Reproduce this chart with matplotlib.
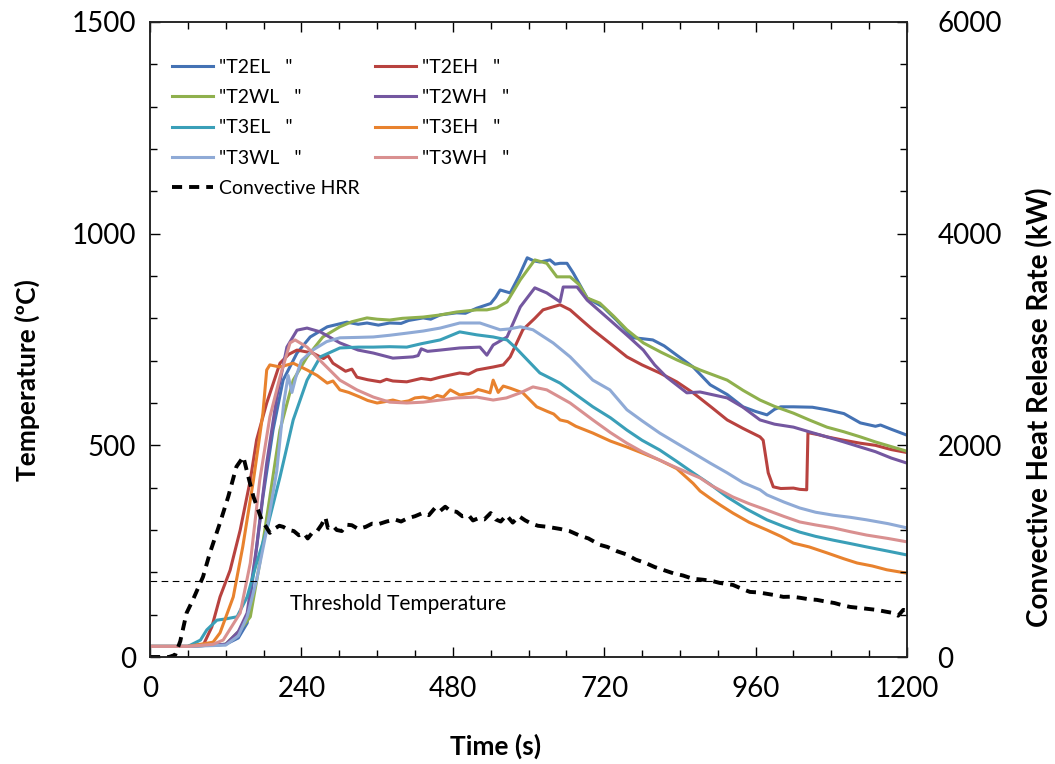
import numpy as np
import matplotlib
matplotlib.use("Agg")
import matplotlib.pyplot as plt
from matplotlib.ticker import MultipleLocator

plt.rcParams['font.family'] = ['Lato', 'DejaVu Sans']

# (time s, temperature C)
T2EL = [(0, 25), (60, 25), (120, 30), (140, 45), (154, 80), (166, 222), (179, 378), (195, 536),
        (211, 654), (233, 718), (254, 756), (281, 780), (312, 791), (330, 786), (344, 789),
        (362, 784), (380, 789), (398, 788), (410, 795), (433, 801), (445, 798), (460, 808),
        (486, 813), (500, 812), (518, 824), (540, 835), (548, 850), (555, 867), (571, 860),
        (585, 900), (598, 943), (608, 936), (618, 933), (634, 938), (642, 928), (650, 930),
        (661, 930), (671, 907), (693, 848), (718, 827), (740, 795), (766, 754), (780, 752),
        (797, 749), (815, 735), (835, 713), (861, 685), (888, 643), (915, 620), (940, 591),
        (960, 580), (978, 572), (990, 585), (1000, 591), (1020, 591), (1050, 590), (1073, 584),
        (1100, 575), (1126, 553), (1150, 545), (1158, 548), (1175, 538), (1200, 524)]

T2EH = [(0, 25), (60, 25), (85, 30), (98, 71), (111, 142), (127, 205), (143, 300), (159, 418),
        (169, 513), (185, 600), (206, 694), (220, 715), (233, 725), (258, 718), (275, 705),
        (282, 712), (290, 694), (310, 675), (320, 680), (328, 661), (345, 655), (365, 650),
        (375, 656), (385, 652), (407, 650), (430, 658), (445, 655), (460, 661), (491, 671),
        (505, 668), (518, 678), (544, 685), (560, 690), (571, 709), (591, 773), (610, 800),
        (623, 820), (650, 832), (666, 820), (685, 795), (702, 773), (730, 740), (756, 709),
        (780, 690), (808, 671), (835, 650), (861, 624), (890, 590), (915, 560), (940, 540),
        (967, 520), (972, 512), (980, 435), (988, 402), (1000, 398), (1020, 399), (1030, 396),
        (1041, 395), (1043, 530), (1060, 525), (1073, 520), (1100, 512), (1126, 505),
        (1150, 500), (1175, 490), (1200, 483)]

T2WL = [(0, 25), (60, 25), (120, 30), (143, 64), (159, 95), (174, 222), (190, 378), (206, 536),
        (227, 654), (249, 709), (274, 756), (301, 780), (320, 792), (344, 801), (360, 798),
        (380, 796), (400, 800), (433, 803), (460, 808), (486, 815), (518, 820), (534, 820),
        (550, 825), (566, 839), (587, 891), (610, 938), (629, 930), (645, 898), (666, 898),
        (680, 880), (693, 848), (713, 836), (735, 805), (756, 773), (782, 742), (810, 720),
        (835, 702), (872, 678), (915, 654), (940, 630), (967, 607), (990, 592), (1020, 576),
        (1045, 560), (1073, 543), (1100, 532), (1126, 520), (1150, 508), (1175, 497),
        (1200, 486)]

T2WH = [(0, 25), (60, 25), (120, 30), (140, 60), (154, 104), (169, 260), (185, 458), (201, 614),
        (217, 732), (233, 772), (249, 777), (270, 768), (301, 742), (330, 725), (354, 718),
        (385, 706), (417, 709), (425, 712), (430, 728), (440, 722), (460, 725), (491, 730),
        (523, 732), (534, 713), (544, 737), (566, 756), (587, 827), (610, 872), (629, 860),
        (650, 839), (655, 874), (677, 874), (693, 843), (729, 796), (760, 755), (782, 725),
        (800, 690), (819, 661), (851, 624), (872, 626), (915, 612), (940, 590), (967, 560),
        (990, 550), (1020, 543), (1045, 532), (1073, 520), (1100, 508), (1126, 496),
        (1150, 485), (1175, 470), (1200, 458)]

T3EL = [(0, 25), (60, 25), (80, 40), (90, 64), (106, 87), (120, 90), (138, 95), (154, 142),
        (169, 222), (185, 300), (206, 425), (227, 560), (249, 654), (270, 709), (301, 730),
        (330, 732), (354, 732), (380, 733), (407, 732), (430, 740), (460, 749), (491, 768),
        (518, 761), (544, 756), (566, 749), (580, 730), (598, 702), (618, 671), (650, 647),
        (675, 620), (702, 591), (730, 565), (756, 536), (780, 512), (808, 489), (835, 462),
        (861, 435), (888, 408), (915, 378), (945, 350), (978, 324), (1005, 308), (1030, 295),
        (1055, 285), (1083, 276), (1110, 268), (1136, 260), (1170, 250), (1200, 241)]

T3EH = [(0, 25), (60, 25), (100, 35), (111, 57), (132, 142), (147, 260), (164, 418), (179, 576),
        (185, 678), (190, 690), (206, 685), (227, 694), (249, 678), (265, 665), (281, 647),
        (290, 652), (301, 631), (315, 625), (333, 614), (345, 606), (360, 600), (372, 603),
        (385, 607), (398, 602), (410, 605), (420, 612), (433, 614), (445, 610), (455, 618),
        (465, 614), (476, 631), (491, 619), (512, 624), (520, 632), (530, 628), (539, 624),
        (544, 654), (552, 625), (560, 640), (571, 635), (591, 624), (613, 591), (630, 580),
        (640, 574), (650, 560), (662, 556), (675, 545), (702, 529), (730, 510), (756, 496),
        (780, 482), (808, 465), (835, 445), (861, 410), (872, 392), (888, 375), (905, 358),
        (924, 340), (950, 318), (978, 300), (1000, 285), (1020, 269), (1045, 260), (1073, 246),
        (1100, 232), (1121, 222), (1145, 215), (1168, 206), (1200, 198)]

T3WL = [(0, 25), (60, 25), (120, 28), (140, 50), (154, 95), (169, 182), (185, 300), (201, 440),
        (212, 600), (219, 665), (225, 625), (231, 660), (240, 700), (258, 725), (280, 745),
        (301, 754), (330, 755), (354, 756), (380, 760), (407, 765), (433, 770), (460, 777),
        (491, 789), (523, 789), (555, 773), (570, 775), (587, 780), (607, 773), (639, 742),
        (666, 709), (702, 654), (729, 631), (756, 584), (780, 558), (808, 529), (835, 505),
        (861, 482), (888, 458), (915, 435), (940, 412), (967, 395), (978, 383), (1005, 366),
        (1030, 352), (1055, 342), (1083, 335), (1110, 330), (1136, 324), (1170, 315),
        (1200, 305)]

T3WH = [(0, 25), (60, 25), (100, 30), (116, 40), (143, 104), (159, 222), (174, 418), (190, 567),
        (206, 661), (222, 742), (230, 749), (249, 732), (274, 694), (301, 654), (328, 631),
        (354, 614), (380, 602), (407, 600), (433, 602), (460, 607), (486, 612), (518, 614),
        (544, 607), (565, 612), (587, 624), (607, 638), (629, 631), (666, 600), (702, 560),
        (730, 530), (756, 505), (780, 485), (808, 465), (835, 447), (861, 430), (872, 423),
        (890, 405), (924, 378), (950, 362), (978, 347), (1005, 332), (1030, 319), (1055, 312),
        (1083, 305), (1110, 296), (1136, 288), (1170, 280), (1200, 272)]

# convective HRR (time s, kW)
HRR = [(0, 0), (30, 0), (40, 20), (48, 150), (58, 416), (68, 540), (84, 757), (95, 984),
       (111, 1268), (124, 1514), (137, 1798), (148, 1892), (153, 1770), (164, 1514),
       (177, 1297), (190, 1173), (198, 1215), (205, 1240), (211, 1230), (220, 1200),
       (228, 1190), (236, 1150), (244, 1170), (250, 1120), (258, 1180), (265, 1190),
       (272, 1250), (278, 1320), (282, 1220), (290, 1240), (296, 1200), (304, 1190),
       (312, 1250), (320, 1245), (330, 1210), (342, 1230), (352, 1260), (362, 1255),
       (375, 1280), (388, 1300), (398, 1280), (408, 1310), (420, 1330), (432, 1360),
       (442, 1340), (452, 1410), (460, 1380), (468, 1420), (476, 1380), (486, 1372),
       (495, 1330), (505, 1340), (512, 1290), (520, 1310), (530, 1300), (540, 1360),
       (548, 1300), (556, 1280), (565, 1340), (575, 1270), (585, 1330), (595, 1290),
       (605, 1260), (615, 1240), (630, 1230), (650, 1210), (665, 1190), (680, 1150),
       (695, 1120), (713, 1060), (725, 1040), (740, 1000), (755, 970), (770, 920),
       (785, 890), (800, 850), (815, 820), (830, 790), (845, 770), (860, 740), (877, 730),
       (890, 720), (903, 700), (924, 681), (940, 640), (951, 615), (965, 610), (975, 600),
       (990, 585), (1004, 568), (1018, 570), (1030, 560), (1045, 545), (1057, 540),
       (1070, 525), (1085, 510), (1097, 490), (1110, 473), (1130, 460), (1152, 445),
       (1165, 430), (1178, 416), (1186, 390), (1194, 445), (1200, 440)]

threshold = 180

series = [
    ('"T2EL   "', T2EL, '#4472B4'),
    ('"T2EH   "', T2EH, '#B8423F'),
    ('"T2WL   "', T2WL, '#8FB04D'),
    ('"T2WH   "', T2WH, '#7457A0'),
    ('"T3EL   "', T3EL, '#3A9FB8'),
    ('"T3EH   "', T3EH, '#E8822E'),
    ('"T3WL   "', T3WL, '#8FAAD6'),
    ('"T3WH   "', T3WH, '#D99090'),
]

fig = plt.figure(figsize=(10.55, 7.64), dpi=100)
ax = fig.add_axes([150/1055, 1 - 657/764, 757/1055, 635/764])
ax2 = ax.twinx()

handles = []
for name, pts, col in series:
    t, v = zip(*pts)
    h, = ax.plot(t, v, color=col, lw=2.2, label=name, solid_joinstyle='round')
    handles.append(h)

t, q = zip(*HRR)
hh, = ax2.plot(t, q, color='black', lw=2.8, linestyle=(0, (2.6, 1.8)), label='Convective HRR')

ax.axhline(threshold, color='black', lw=0.8, linestyle=(0, (6, 4)))
ax.text(222, 125, 'Threshold Temperature', fontsize=15, va='center', ha='left')

ax.set_xlim(0, 1200)
ax.set_ylim(0, 1500)
ax2.set_ylim(0, 6000)
ax.xaxis.set_major_locator(MultipleLocator(240))
ax.xaxis.set_minor_locator(MultipleLocator(60))
ax.yaxis.set_major_locator(MultipleLocator(500))
ax.yaxis.set_minor_locator(MultipleLocator(100))
ax2.yaxis.set_major_locator(MultipleLocator(2000))
ax2.yaxis.set_minor_locator(MultipleLocator(400))

for a in (ax, ax2):
    for s in a.spines.values():
        s.set_linewidth(1.1)
        s.set_color('#222222')
ax.tick_params(axis='x', which='both', direction='in', top=True, labelsize=20, pad=14)
ax.tick_params(axis='y', which='both', direction='in', labelsize=20, pad=10)
ax2.tick_params(axis='y', which='both', direction='in', labelsize=20, pad=22)
for a in (ax, ax2):
    a.tick_params(which='major', length=7, width=1)
    a.tick_params(which='minor', length=5, width=1)

fig.text(496/1055, 1 - 746/764, 'Time (s)', fontsize=19, fontweight='bold', ha='center', va='center')
fig.text(27/1055, 1 - 380/764, 'Temperature (ºC)', fontsize=19, fontweight='bold',
         rotation=90, ha='center', va='center')
fig.text(1040/1055, 1 - 407/764, 'Convective Heat Release Rate (kW)', fontsize=20,
         fontweight='bold', rotation=90, ha='center', va='center')

order = [handles[0], handles[2], handles[4], handles[6], hh,
         handles[1], handles[3], handles[5], handles[7]]
ax2.legend(handles=order, loc='upper left', bbox_to_anchor=(22/757, 1 - 37/635),
           ncol=2, frameon=False, fontsize=14, borderpad=0, borderaxespad=0,
           handlelength=2.1, handletextpad=0.3, labelspacing=0.68, columnspacing=0.8)

fig.savefig('out.png', dpi=100)
